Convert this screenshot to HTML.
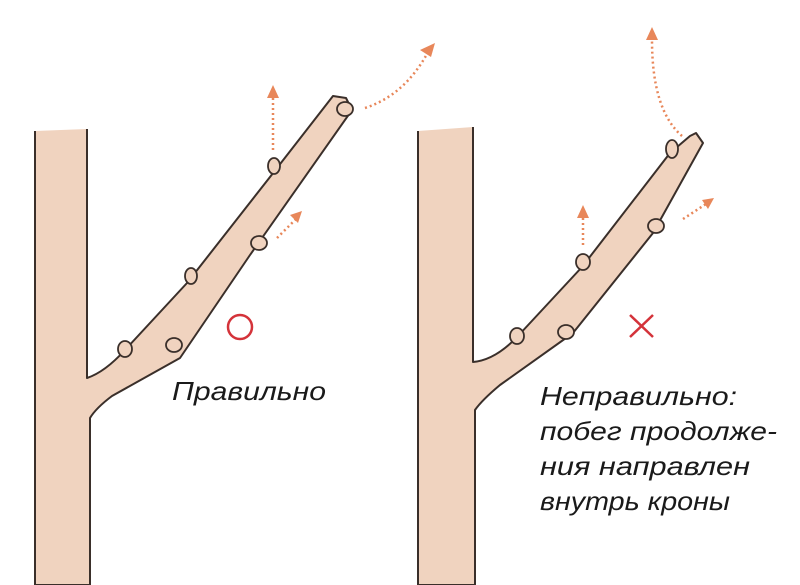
<!DOCTYPE html>
<html><head><meta charset="utf-8"><style>
html,body{margin:0;padding:0;background:#fff;}
svg{display:block}
text{font-family:"Liberation Sans","DejaVu Sans",sans-serif;font-style:italic;fill:#1a1a1a;font-size:26px}
</style></head><body>
<svg width="800" height="585" viewBox="0 0 800 585" xmlns="http://www.w3.org/2000/svg">
<rect width="800" height="585" fill="#fff"/>
<g fill="#f0d3bf" stroke="#3a2f2a" stroke-width="2" stroke-linejoin="round">
<path d="M35,131 L35,585 L90,585 L90,418 Q96,408 112,396 L180,358 L250,255 L352,110 L346,98 L333,96 L270,177 L187,283 L125,350 Q105,372 87,378 L87,129"/>
<path d="M418,131 L418,585 L475,585 L475,410 Q482,400 500,385 L573,333 L653,233 L703,143 L696,133 L690,136 L670,153 L582,267 L517,337 Q495,360 473,362 L473,127"/>
</g>
<g fill="#f0d3bf" stroke="#3a2f2a" stroke-width="1.8">
<ellipse cx="125" cy="349" rx="7" ry="8"/>
<ellipse cx="174" cy="345" rx="8" ry="7"/>
<ellipse cx="191" cy="276" rx="6" ry="8"/>
<ellipse cx="259" cy="243" rx="8" ry="7"/>
<ellipse cx="274" cy="166" rx="6" ry="8"/>
<ellipse cx="345" cy="109" rx="8" ry="7"/>
<ellipse cx="517" cy="336" rx="7" ry="8"/>
<ellipse cx="566" cy="332" rx="8" ry="7"/>
<ellipse cx="583" cy="262" rx="7" ry="8"/>
<ellipse cx="656" cy="226" rx="8" ry="7"/>
<ellipse cx="672" cy="149" rx="6" ry="9"/>
</g>
<g fill="none" stroke="#e8875a" stroke-width="2.5" stroke-dasharray="2,3">
<path d="M365,108 Q405,95 428,52"/>
<path d="M273,150 L273,98"/>
<path d="M277,238 L297,218"/>
<path d="M682,136 Q652,110 652,40"/>
<path d="M583,245 L583,218"/>
<path d="M683,219 L706,204"/>
</g>
<g fill="#e8875a">
<polygon points="435,43 420,50 431,57"/>
<polygon points="273,85 267,98 279,98"/>
<polygon points="302,211 290,215 298,223"/>
<polygon points="652,27 646,40 658,40"/>
<polygon points="583,205 577,218 589,218"/>
<polygon points="714,198 702,200 708,209"/>
</g>
<circle cx="240" cy="327" r="12" fill="none" stroke="#d4333a" stroke-width="2.5"/>
<g stroke="#d4333a" stroke-width="2.5"><line x1="630" y1="315" x2="653" y2="337"/><line x1="653" y1="315" x2="630" y2="337"/></g>
<text x="172" y="400" textLength="154" lengthAdjust="spacingAndGlyphs">Правильно</text>
<text x="540" y="405" textLength="197" lengthAdjust="spacingAndGlyphs">Неправильно:</text>
<text x="540" y="440" textLength="237" lengthAdjust="spacingAndGlyphs">побег продолже-</text>
<text x="540" y="475" textLength="210" lengthAdjust="spacingAndGlyphs">ния направлен</text>
<text x="540" y="510" textLength="190" lengthAdjust="spacingAndGlyphs">внутрь кроны</text>
</svg>
</body></html>
